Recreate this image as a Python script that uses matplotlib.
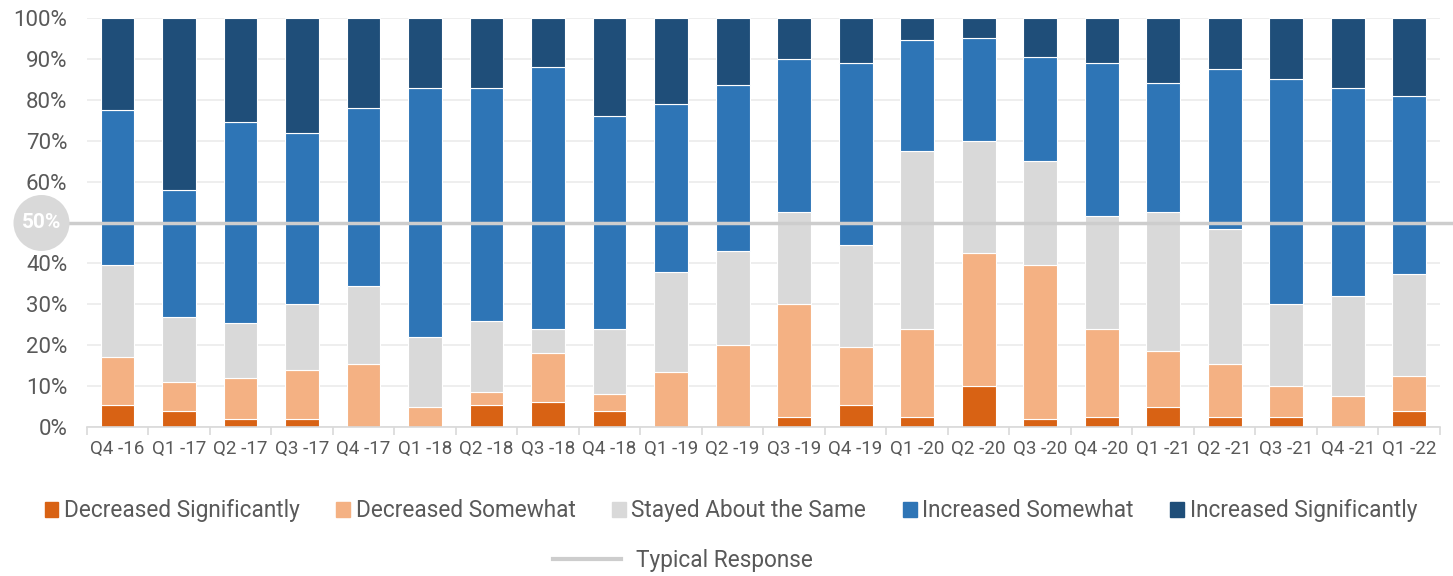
import matplotlib.pyplot as plt
import numpy as np
from matplotlib.lines import Line2D
from matplotlib.patches import Patch, Circle

plt.rcParams['font.family'] = ['Roboto', 'DejaVu Sans']

# quarters
trimestres = ["Q4 -16", "Q1 -17", "Q2 -17", "Q3 -17", "Q4 -17", "Q1 -18", "Q2 -18", "Q3 -18",
              "Q4 -18", "Q1 -19", "Q2 -19", "Q3 -19", "Q4 -19", "Q1 -20", "Q2 -20", "Q3 -20",
              "Q4 -20", "Q1 -21", "Q2 -21", "Q3 -21", "Q4 -21", "Q1 -22"]

# shares in % (each column adds to 100)
dec_sig = [5.5, 4, 2, 2, 0, 0, 5.5, 6, 4, 0, 0, 2.5, 5.5, 2.5, 10, 2, 2.5, 5, 2.5, 2.5, 0, 4]
dec_some = [11.5, 7, 10, 12, 15.5, 5, 3, 12, 4, 13.5, 20, 27.5, 14, 21.5, 32.5, 37.5, 21.5, 13.5, 13, 7.5, 7.5, 8.5]
same = [22.5, 16, 13.5, 16, 19, 17, 17.5, 6, 16, 24.5, 23, 22.5, 25, 43.5, 27.5, 25.5, 27.5, 34, 33, 20, 24.5, 25]
inc_some = [38, 31, 49, 42, 43.5, 61, 57, 64, 52, 41, 40.5, 37.5, 44.5, 27, 25, 25.5, 37.5, 31.5, 39, 55, 51, 43.5]
inc_sig = [22.5, 42, 25.5, 28, 22, 17, 17, 12, 24, 21, 16.5, 10, 11, 5.5, 5, 9.5, 11, 16, 12.5, 15, 17, 19]

typical = 50

series = [dec_sig, dec_some, same, inc_some, inc_sig]
nombres = ["Decreased Significantly", "Decreased Somewhat", "Stayed About the Same",
           "Increased Somewhat", "Increased Significantly"]
colores = ["#D86214", "#F4B183", "#D9D9D9", "#2E75B6", "#1F4E79"]
gris_texto = "#595959"
gris_linea = "#CDCDCD"

fig = plt.figure(figsize=(14.53, 5.76), dpi=100)
ax = fig.add_axes([86.7 / 1453, 1 - 427 / 576, 1353.3 / 1453, 409 / 576])

x = np.arange(len(trimestres))
base = np.zeros(len(trimestres))
for vals, nombre, c in zip(series, nombres, colores):
    vals = np.array(vals, dtype=float)
    ax.bar(x, vals, bottom=base, width=0.55, color=c, edgecolor="white", linewidth=0.8,
           label=nombre, zorder=2)
    base = base + vals

# typical response line
ax.axhline(typical, xmin=-0.012, xmax=1.01, color=gris_linea, linewidth=2.5, clip_on=False, zorder=3)

ax.set_xlim(-0.5, len(trimestres) - 0.5)
ax.set_ylim(0, 100)
ax.set_yticks(np.arange(0, 101, 10))
ax.set_yticklabels([f"{v}%" if v != 50 else "" for v in range(0, 101, 10)])
ax.set_xticks(x)
ax.set_xticklabels(trimestres)
ax.set_xticks(np.arange(-0.5, len(trimestres), 1), minor=True)
ax.tick_params(axis="x", which="major", length=0, pad=9, labelsize=13.5, labelcolor=gris_texto)
ax.tick_params(axis="x", which="minor", length=6, color="#D9D9D9", width=1.2)
ax.tick_params(axis="y", length=0, pad=14, labelsize=16, labelcolor=gris_texto)
ax.grid(axis="y", color="#EBEBEB", linewidth=1.2, zorder=0)
ax.set_axisbelow(True)
for lado in ["top", "right", "left"]:
    ax.spines[lado].set_visible(False)
ax.spines["bottom"].set_color("#D9D9D9")
ax.spines["bottom"].set_linewidth(1.2)

# circled 50% label
fig.patches.append(Circle((0.415, (576 - 223) / 100), 0.28, transform=fig.dpi_scale_trans,
                          fc="#D9D9D9", ec="none", zorder=5))
fig.text(0.415, (576 - 223) / 100, "50%", transform=fig.dpi_scale_trans, ha="center", va="center",
         fontsize=15, color="white", fontweight="bold", zorder=6)

handles = [Patch(color=c, label=n) for c, n in zip(colores, nombres)]
fig.legend(handles=handles, loc="center", bbox_to_anchor=(0.503, 0.113), ncol=5, frameon=False,
           fontsize=16.3, labelcolor=gris_texto, handlelength=0.6, handleheight=0.6,
           handletextpad=0.25, columnspacing=1.62)
fig.legend(handles=[Line2D([0], [0], color=gris_linea, linewidth=3, label="Typical Response")],
           loc="center", bbox_to_anchor=(0.47, 0.027), frameon=False, fontsize=16.3,
           labelcolor=gris_texto, handlelength=3.0, handletextpad=0.7)

fig.savefig("out.png", dpi=100)
